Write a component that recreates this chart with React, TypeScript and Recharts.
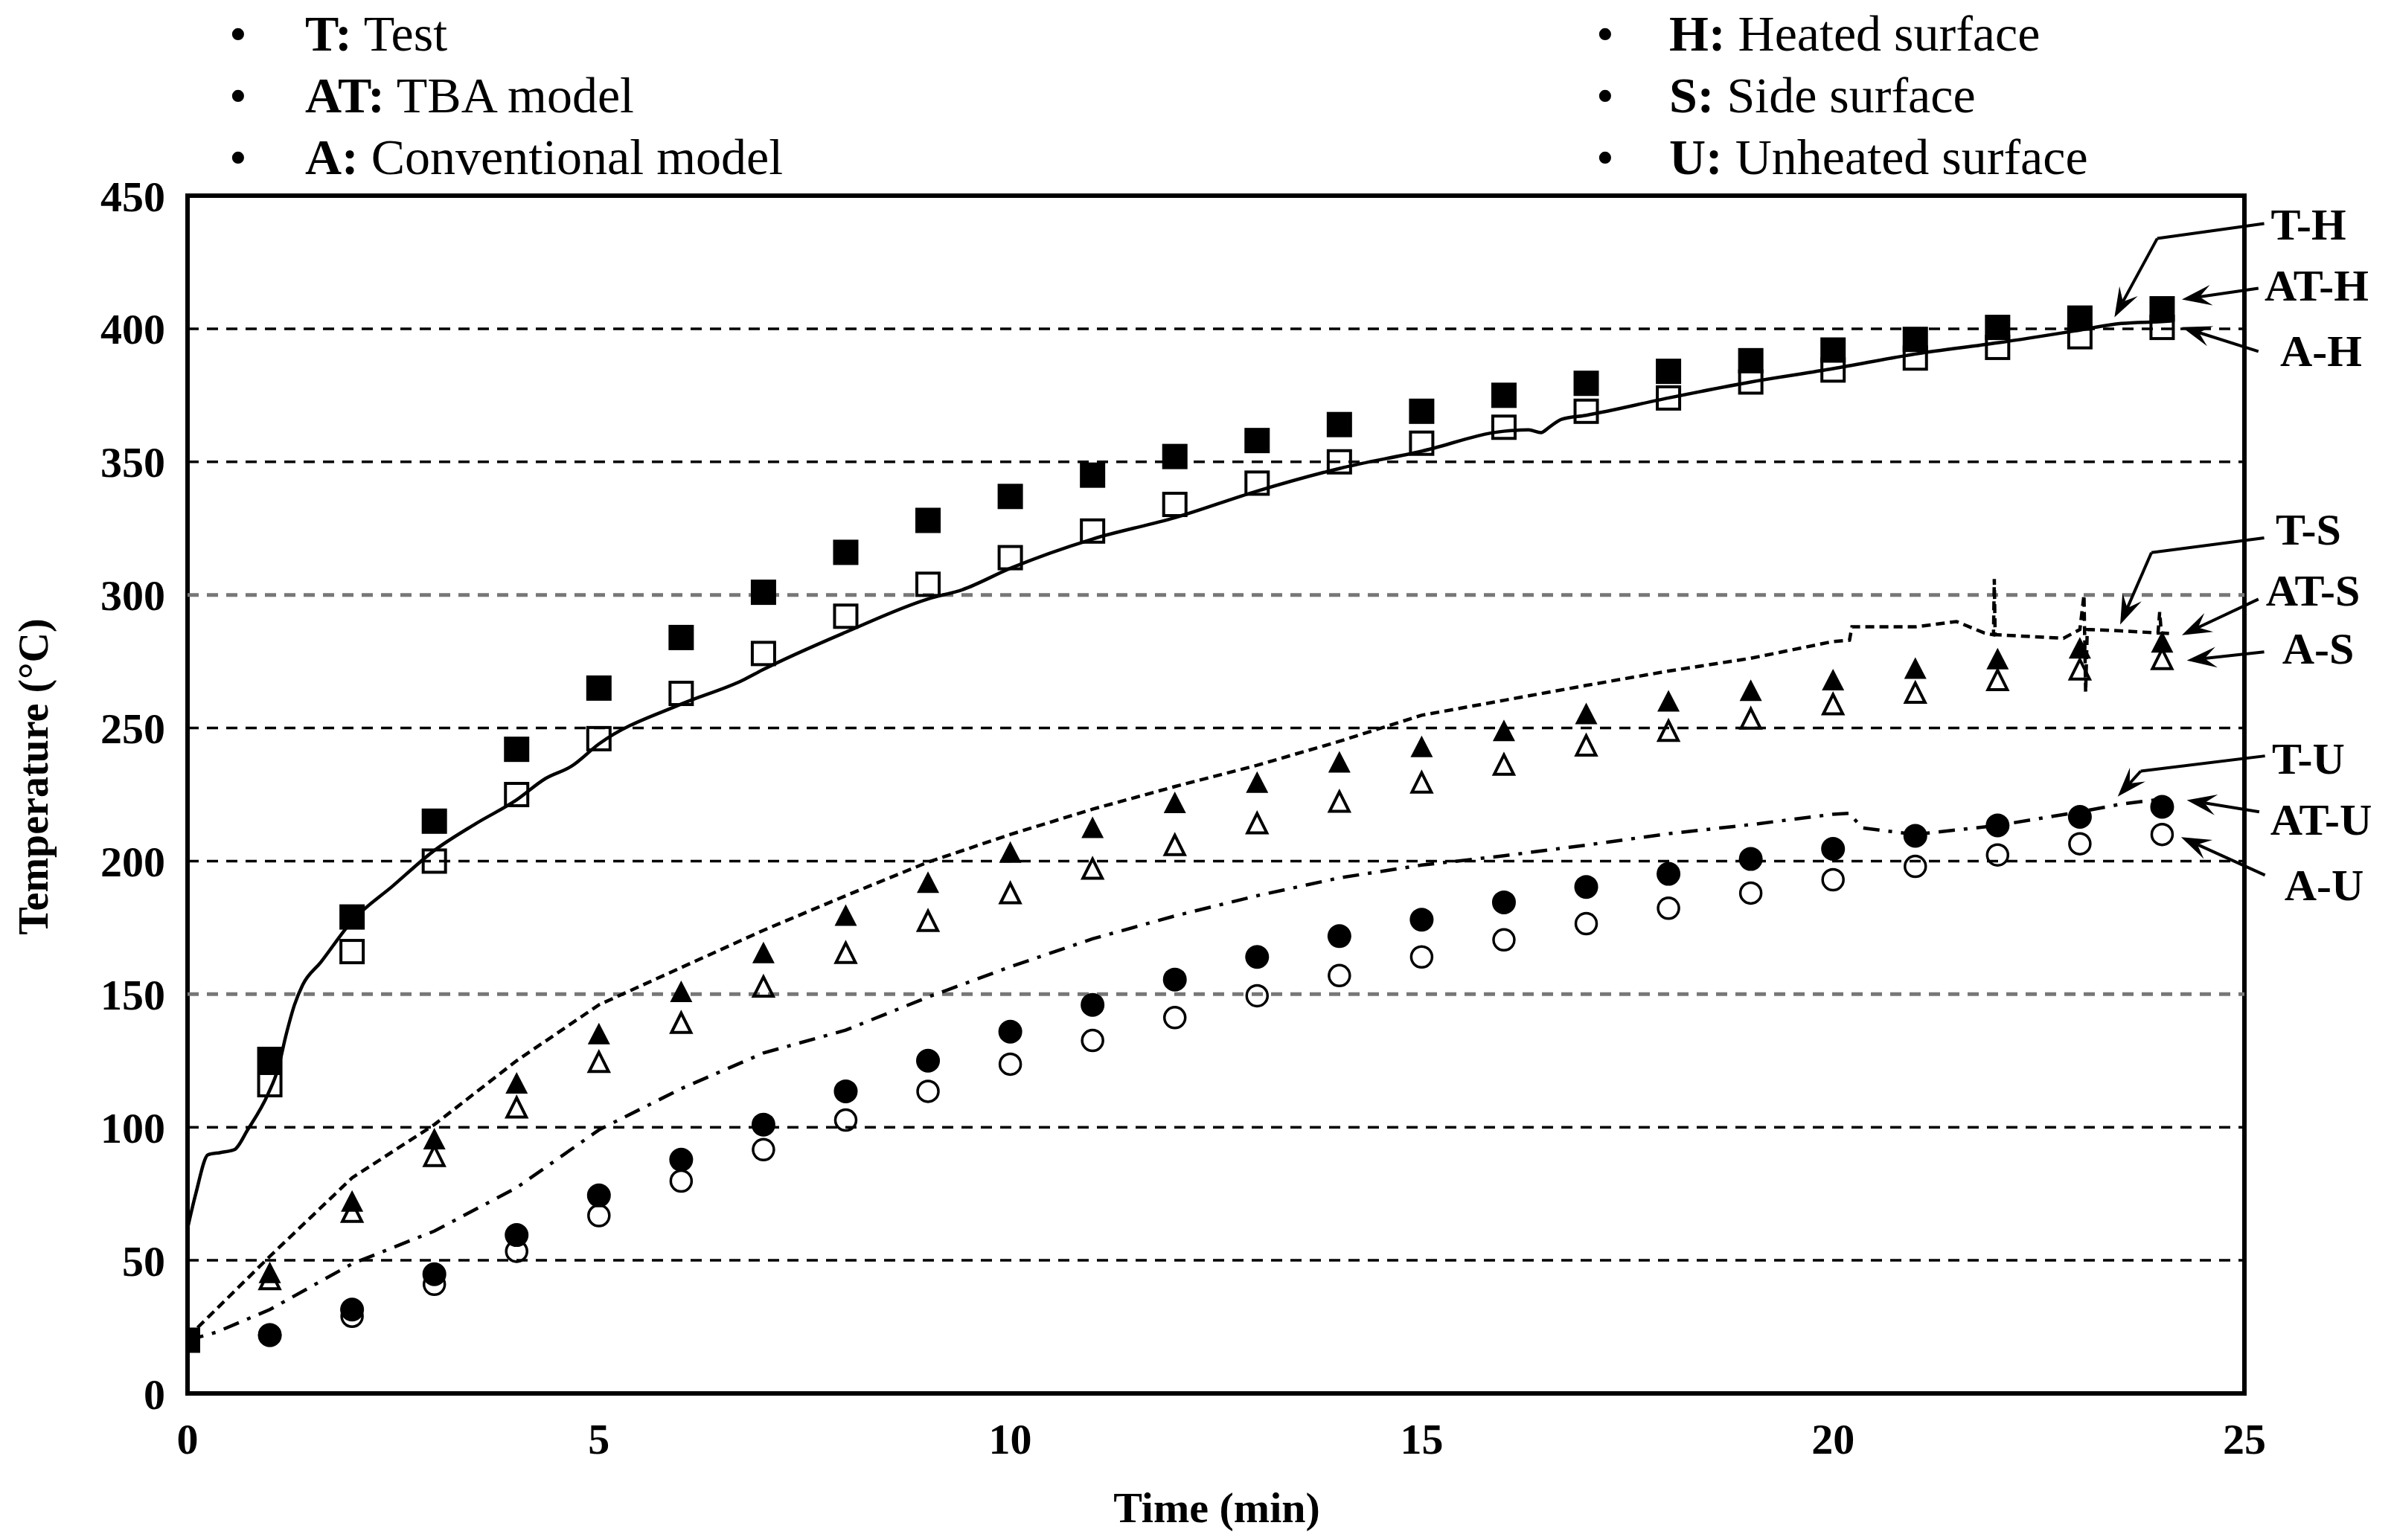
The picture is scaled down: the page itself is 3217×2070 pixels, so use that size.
import React from 'react';
import { ComposedChart, Line, Scatter, XAxis, YAxis, ReferenceLine, ReferenceArea } from 'recharts';

const W = 3200;
const H = 2055;
const FONT = '"Liberation Serif", "Times New Roman", Times, "DejaVu Serif", serif';

// ---------- data ----------
const minutes = [1, 2, 3, 4, 5, 6, 7, 8, 9, 10, 11, 12, 13, 14, 15, 16, 17, 18, 19, 20, 21, 22, 23, 24];
const tbaHeated = [125.5, 179, 215, 242, 265, 284, 301, 316, 328, 337, 345, 352, 358, 364, 369, 375, 379.5, 384, 388, 392, 396, 400.5, 404, 407.5];
const convHeated = [116, 166, 200, 225, 246, 263, 278, 292, 304, 314, 324, 334, 342, 350, 357, 363, 369, 374, 380, 384.5, 389, 393, 397, 400.5];
const tbaSide = [44.8, 71.6, 95, 116, 134.5, 150.4, 165, 179, 191.4, 202.7, 212, 221.4, 229, 236.6, 242.4, 248.4, 254.8, 259.5, 263.5, 267.5, 271.8, 275.4, 279.4, 281.7];
const convSide = [42.4, 67.7, 88.7, 106.9, 124, 138.7, 152.3, 165, 177, 187.4, 196.6, 205.5, 213.7, 221.8, 229, 235.7, 242.9, 248.4, 253, 258.4, 262.7, 267.5, 271.5, 275.4];
const tbaUnheated = [21.9, 31.5, 44.8, 59.5, 74.4, 87.8, 101, 113.5, 125, 135.9, 146, 155.5, 164, 171.8, 178, 184.5, 190.3, 195.2, 200.8, 204.6, 209.5, 213.4, 216.6, 220.4];
const convUnheated = [22, 29, 41, 53.4, 66.8, 79.8, 91.6, 102.7, 113.5, 123.7, 132.6, 141.2, 149.4, 157, 164, 170.4, 176.5, 182.3, 188, 193, 198, 202.3, 206.5, 210];
const startTime = [0];
const startTemp = [20];

const testHeatedTime = [0, 0.1, 0.25, 0.4, 0.57, 0.73, 0.98, 1.1, 1.2, 1.3, 1.4, 1.62, 2, 2.5, 3, 3.5, 4, 4.35, 4.67, 5, 6, 6.75, 7, 8, 9, 9.42, 10, 11, 12, 13, 14, 15, 16, 16.3, 16.45, 16.55, 16.7, 17, 18, 19, 20, 21, 22, 23, 23.5, 24, 24.15];
const testHeatedTemp = [62, 75, 89.7, 90.5, 91.6, 99, 112.6, 122, 135, 146, 153.5, 162, 177.5, 190.8, 204, 214, 223, 231, 235.7, 244, 259, 268, 272, 286, 298.5, 302, 310, 321, 329, 339, 347.5, 354, 361.5, 362, 361, 363, 366, 367.5, 374, 380, 385, 390.5, 394.7, 399.5, 402, 402.7, 403];

const testSideTime = [0, 1, 2, 3, 4, 5, 6, 7, 8, 9, 10, 11, 12, 13, 14, 15, 16, 17, 18, 19, 20, 20.2, 20.23, 21, 21.5, 21.84, 21.95, 21.96, 21.97, 22, 22.8, 23, 23.05, 23.07, 23.09, 23.5, 23.95, 23.97, 23.99, 24.1];
const testSideTemp = [21, 51.5, 81, 101, 125, 146, 160, 174, 187, 199.6, 210, 219.5, 228, 236, 245, 254.8, 260.4, 266, 271.4, 276.2, 282.5, 283, 288, 288, 290, 285.7, 285, 306, 285, 285, 283.7, 287, 300, 263.5, 287, 286.5, 285.7, 293.6, 285.7, 285.5];

const testUnheatedTime = [0, 0.35, 1, 2, 3, 4, 5, 6, 7, 8, 9, 10, 11, 12, 13, 14, 15, 16, 17, 18, 19, 20, 20.2, 20.35, 21, 22, 23, 23.5, 24];
const testUnheatedTemp = [20, 23, 31.5, 48.7, 61, 77.3, 99, 114.5, 127.9, 136.5, 148.9, 160.3, 170.8, 179.4, 187, 193.7, 198.5, 202, 206, 210.3, 213.7, 217.6, 218, 212.5, 210, 213.4, 218.5, 221.4, 223.3];

const xTicks = [0, 5, 10, 15, 20, 25];
const yTicks = [0, 50, 100, 150, 200, 250, 300, 350, 400, 450];
const gridValues = [50, 100, 150, 200, 250, 300, 350, 400];
const greyGrid = [150, 300];

const legendLeft = [
  { key: 'T:', text: 'Test' },
  { key: 'AT:', text: 'TBA model' },
  { key: 'A:', text: 'Conventional model' },
];
const legendRight = [
  { key: 'H:', text: 'Heated surface' },
  { key: 'S:', text: 'Side surface' },
  { key: 'U:', text: 'Unheated surface' },
];

// annotation labels and leader arrows (data coordinates)
const sideLabels = [
  { text: 'T-H', x: 3094, y: 294 },
  { text: 'AT-H', x: 3105, y: 376 },
  { text: 'A-H', x: 3111, y: 464 },
  { text: 'T-S', x: 3094, y: 704 },
  { text: 'AT-S', x: 3100, y: 786 },
  { text: 'A-S', x: 3107, y: 864 },
  { text: 'T-U', x: 3094, y: 1012 },
  { text: 'AT-U', x: 3111, y: 1094 },
  { text: 'A-U', x: 3115, y: 1182 },
];
const leaders = [
  { from: [25.24, 439.5], to: [23.94, 433.9], head: false },
  { from: [23.94, 433.9], to: [23.42, 404.3], head: true },
  { from: [25.17, 415.2], to: [24.24, 411], head: true },
  { from: [25.17, 391.5], to: [24.24, 400.6], head: true },
  { from: [25.24, 321.4], to: [23.87, 315.9], head: false },
  { from: [23.87, 315.9], to: [23.49, 288.9], head: true },
  { from: [25.17, 298.4], to: [24.24, 284.9], head: true },
  { from: [25.24, 278.6], to: [24.3, 275.4], head: true },
  { from: [25.25, 239.5], to: [23.74, 233.8], head: false },
  { from: [23.74, 233.8], to: [23.46, 224.2], head: true },
  { from: [25.18, 218.5], to: [24.3, 222.9], head: true },
  { from: [25.25, 194.7], to: [24.23, 209], head: true },
];

const pts = (xs: number[], ys: number[]) => xs.map((x, i) => ({ x, y: ys[i] }));

// ---------- marker shapes ----------
const FilledSquare = (p: any) => <rect x={p.cx - 17} y={p.cy - 17} width={34} height={34} fill="#000" />;
const OpenSquare = (p: any) => <rect x={p.cx - 15} y={p.cy - 15} width={30} height={30} fill="none" stroke="#000" strokeWidth={4} />;
const FilledTri = (p: any) => (
  <polygon points={`${p.cx},${p.cy - 17} ${p.cx - 15},${p.cy + 12} ${p.cx + 15},${p.cy + 12}`} fill="#000" />
);
const OpenTri = (p: any) => (
  <polygon points={`${p.cx},${p.cy - 15} ${p.cx - 13},${p.cy + 11} ${p.cx + 13},${p.cy + 11}`} fill="none" stroke="#000" strokeWidth={4} />
);
const FilledCircle = (p: any) => <circle cx={p.cx} cy={p.cy} r={16} fill="#000" />;
const OpenCircle = (p: any) => <circle cx={p.cx} cy={p.cy} r={14} fill="none" stroke="#000" strokeWidth={3.5} />;

const makeLeader = (head: boolean) => (props: any) => {
  const { x1, y1, x2, y2 } = props;
  if (x1 == null) return null;
  const ang = Math.atan2(y2 - y1, x2 - x1);
  const c = Math.cos(ang);
  const s = Math.sin(ang);
  const L = 40;
  const w = 14;
  const bx = x2 - L * c;
  const by = y2 - L * s;
  const nx = x2 - L * 0.6 * c;
  const ny = y2 - L * 0.6 * s;
  return (
    <g>
      <line x1={x1} y1={y1} x2={head ? nx : x2} y2={head ? ny : y2} stroke="#000" strokeWidth={4} />
      {head && (
        <polygon
          points={`${x2},${y2} ${bx - w * s},${by + w * c} ${nx},${ny} ${bx + w * s},${by - w * c}`}
          fill="#000"
        />
      )}
    </g>
  );
};

const tickStyle = { fontFamily: FONT, fontSize: 58, fontWeight: 700, fill: '#000' };

export default function App() {
  return (
    <div style={{ position: 'relative', width: W, height: H, fontFamily: FONT, background: '#fff' }}>
      <ComposedChart width={W} height={H} margin={{ top: 255, right: 192, bottom: 90, left: 144 }}>
        <XAxis
          dataKey="x"
          type="number"
          domain={[0, 25]}
          ticks={xTicks}
          allowDataOverflow
          axisLine={false}
          tickLine={false}
          tickSize={0}
          tickMargin={40}
          height={100}
          tick={tickStyle}
        />
        <YAxis
          type="number"
          domain={[0, 450]}
          ticks={yTicks}
          allowDataOverflow
          axisLine={false}
          tickLine={false}
          tickSize={0}
          tickMargin={30}
          width={100}
          tick={tickStyle}
        />
        {gridValues.map((v) => (
          <ReferenceLine
            key={`g${v}`}
            y={v}
            stroke={greyGrid.includes(v) ? '#777' : '#000'}
            strokeWidth={greyGrid.includes(v) ? 5 : 3.5}
            strokeDasharray="15 11"
          />
        ))}
        <Line data={pts(testHeatedTime, testHeatedTemp)} dataKey="y" type="monotone" dot={false} stroke="#000" strokeWidth={4.5} isAnimationActive={false} />
        <Line data={pts(testSideTime, testSideTemp)} dataKey="y" type="linear" dot={false} stroke="#000" strokeWidth={4.5} strokeDasharray="12 7" isAnimationActive={false} />
        <Line data={pts(testUnheatedTime, testUnheatedTemp)} dataKey="y" type="linear" dot={false} stroke="#000" strokeWidth={4.5} strokeDasharray="22 12 5 12" isAnimationActive={false} />
        <Scatter data={pts(minutes, convHeated)} dataKey="y" shape={OpenSquare} isAnimationActive={false} />
        <Scatter data={pts(minutes, tbaHeated)} dataKey="y" shape={FilledSquare} isAnimationActive={false} />
        <Scatter data={pts(startTime, startTemp)} dataKey="y" shape={FilledSquare} isAnimationActive={false} />
        <Scatter data={pts(minutes, convSide)} dataKey="y" shape={OpenTri} isAnimationActive={false} />
        <Scatter data={pts(minutes, tbaSide)} dataKey="y" shape={FilledTri} isAnimationActive={false} />
        <Scatter data={pts(minutes, convUnheated)} dataKey="y" shape={OpenCircle} isAnimationActive={false} />
        <Scatter data={pts(minutes, tbaUnheated)} dataKey="y" shape={FilledCircle} isAnimationActive={false} />
        <ReferenceArea x1={0} x2={25} y1={0} y2={450} fill="none" fillOpacity={0} stroke="#000" strokeWidth={6} ifOverflow="visible" />
        {leaders.map((l, i) => (
          <ReferenceLine
            key={`l${i}`}
            segment={[{ x: l.from[0], y: l.from[1] }, { x: l.to[0], y: l.to[1] }]}
            ifOverflow="visible"
            stroke="#000"
            shape={makeLeader(l.head)}
          />
        ))}
      </ComposedChart>

      {legendLeft.map((r, i) => (
        <div key={r.key} style={{ position: 'absolute', left: 300, top: 37 + i * 83, transform: 'translateY(-50%)', fontSize: 68, lineHeight: 1, whiteSpace: 'nowrap', color: '#000' }}>
          <span style={{ display: 'inline-block', width: 102 }}>•</span>
          <b>{r.key}</b> {r.text}
        </div>
      ))}
      {legendRight.map((r, i) => (
        <div key={r.key} style={{ position: 'absolute', left: 2137, top: 37 + i * 83, transform: 'translateY(-50%)', fontSize: 68, lineHeight: 1, whiteSpace: 'nowrap', color: '#000' }}>
          <span style={{ display: 'inline-block', width: 98 }}>•</span>
          <b>{r.key}</b> {r.text}
        </div>
      ))}

      {sideLabels.map((l) => (
        <div key={l.text} style={{ position: 'absolute', left: l.x, top: l.y, transform: 'translate(-50%, -50%)', fontSize: 60, fontWeight: 700, lineHeight: 1, whiteSpace: 'nowrap', color: '#000' }}>
          {l.text}
        </div>
      ))}

      <div style={{ position: 'absolute', left: 1627, top: 2019, transform: 'translate(-50%, -50%)', fontSize: 58, fontWeight: 700, lineHeight: 1, whiteSpace: 'nowrap' }}>
        Time (min)
      </div>
      <div style={{ position: 'absolute', left: 37, top: 1036, transform: 'translate(-50%, -50%) rotate(-90deg)', fontSize: 56, fontWeight: 700, lineHeight: 1, whiteSpace: 'nowrap' }}>
        Temperature (°C)
      </div>
    </div>
  );
}
